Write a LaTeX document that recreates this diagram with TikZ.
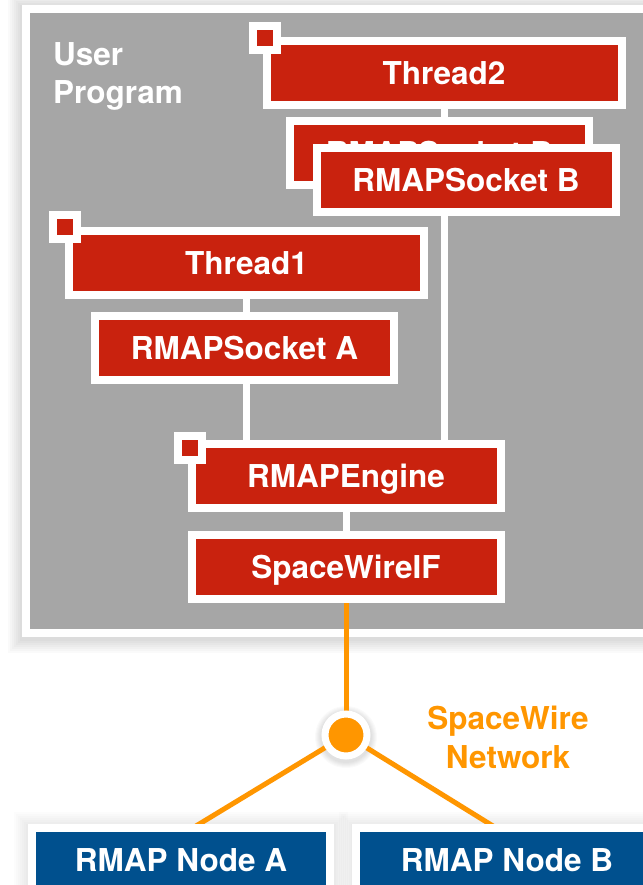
\documentclass[tikz,border=0pt]{standalone}
\usepackage{fontspec}
\setmainfont{TeX Gyre Heros}
\definecolor{boxred}{RGB}{201,34,14}
\definecolor{nodeblue}{RGB}{0,80,142}
\definecolor{swor}{RGB}{255,150,0}
\definecolor{panelgray}{RGB}{166,166,166}
\pgfdeclarelayer{bottom}
\pgfdeclarelayer{background}
\pgfsetlayers{bottom,background,main}
\begin{document}
\begin{tikzpicture}[x=1pt,y=-1pt,
  lbl/.style={text=white, font=\bfseries\fontsize{31.5}{36}\selectfont},
  redbox/.style={lbl, rectangle, fill=boxred, draw=white, line width=8pt,
    minimum height=64pt, inner sep=0pt, text height=22.5pt, text depth=0pt},
  bluebox/.style={redbox, fill=nodeblue},
  marker/.style={rectangle, fill=boxred, draw=white, line width=8pt,
    minimum size=24pt, inner sep=0pt},
  link/.style={draw=white, line width=7pt},
  swlink/.style={draw=swor, line width=5pt},
  swtext/.style={text=swor, font=\bfseries\fontsize{31.5}{36}\selectfont, anchor=base},
]
\useasboundingbox (0,0) rectangle (642,885);

% panel and soft shadows
\begin{pgfonlayer}{bottom}
\fill[white] (0,0) rectangle (642,885);
\foreach \s in {2,4,...,14}{
  \fill[black, opacity=0.018] (22-\s,5-\s+2) rectangle (720,637+\s+2);
  \fill[black, opacity=0.012] (28-\s,824-\s+2) rectangle (334+\s,900);
  \fill[black, opacity=0.012] (353-\s,824-\s+2) rectangle (720,900);
}
\foreach \s in {1,2,...,6}{
  \fill[black, opacity=0.02] (346,737) circle[radius=25+\s];
}
\path[fill=panelgray, draw=white, line width=8pt]
  (26,9.5) rectangle (720,633);
\end{pgfonlayer}

\node[lbl, anchor=base west, inner sep=0pt] (user) at (53,66) {User};
\node[lbl, anchor=base west, inner sep=0pt] (prog) at (53,104) {Program};

% red boxes
\node[redbox, minimum width=355pt] (thread2) at (444,73) {Thread2};
\node[redbox, minimum width=299pt] (sockBback) at (439.5,153) {RMAPSocket B};
\node[redbox, minimum width=299pt] (sockB) at (466,180) {RMAPSocket B};
\node[redbox, minimum width=355pt] (thread1) at (246.5,263) {Thread1};
\node[redbox, minimum width=299pt] (sockA) at (244.5,348) {RMAPSocket A};
\node[redbox, minimum width=309pt] (engine) at (346,476) {RMAPEngine};
\node[redbox, minimum width=309pt] (swif) at (346,567) {SpaceWireIF};

% markers
\node[marker] (m2) at (264.5,38) {};
\node[marker] (m1) at (64.5,227) {};
\node[marker] (me) at (190,448) {};

% network
\node[circle, fill=swor, draw=white, line width=7pt, minimum size=42pt, inner sep=0pt] (hub) at (346,735) {};
\node[bluebox, minimum width=298pt] (nodeA) at (181,860) {RMAP Node A};
\node[bluebox, minimum width=302pt] (nodeB) at (507,860) {RMAP Node B};
\coordinate (la) at (196,826);
\coordinate (lb) at (493,826);

\node[swtext] (sw1) at (508,729) {SpaceWire};
\node[swtext] (sw2) at (508,768) {Network};

\begin{pgfonlayer}{background}
\draw[link] (thread2.south) -- (thread2.south |- engine.north);
\draw[link] (thread1.south) -- (thread1.south |- engine.north);
\draw[link] (engine.south) -- (swif.north);
\draw[swlink] (swif.south) -- (hub.center);
\draw[swlink] (hub.center) -- (la);
\draw[swlink] (hub.center) -- (lb);
\end{pgfonlayer}
\end{tikzpicture}
\end{document}
